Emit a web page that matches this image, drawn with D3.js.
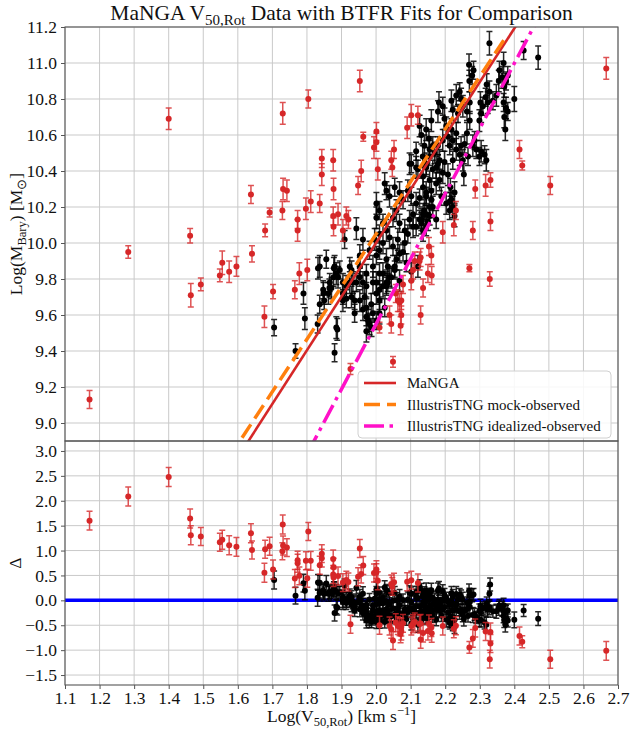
<!DOCTYPE html>
<html>
<head>
<meta charset="utf-8">
<script src="https://cdn.jsdelivr.net/npm/d3@7"></script>
<style>
body { margin: 0; background: #fff; }
text { font-family: "Liberation Serif", "Times New Roman", serif; fill: #111; }
</style>
</head>
<body>
<svg id="chart" width="630" height="729"></svg>
<script>
// tick labels
var xTicks = [1.1, 1.2, 1.3, 1.4, 1.5, 1.6, 1.7, 1.8, 1.9, 2.0, 2.1, 2.2, 2.3, 2.4, 2.5, 2.6, 2.7];
var yTicksTop = [9.0, 9.2, 9.4, 9.6, 9.8, 10.0, 10.2, 10.4, 10.6, 10.8, 11.0, 11.2];
var yTicksBottom = [-1.5, -1.0, -0.5, 0.0, 0.5, 1.0, 1.5, 2.0, 2.5, 3.0];

// BTFR fits: [slope, intercept, xmin, xmax]
var mangaFit = [2.98, 4.04, 1.1, 2.7];
var mockFit = [2.917, 4.215, 1.1, 2.37];
var idealFit = [3.62, 2.31, 1.1, 2.7];

// [logV, logM, err(logM), err(delta)]
var blackPoints = [
[2.328,11.11,.065,.15],[2.427,11.07,.05,.12],[2.469,11.03,.065,.14],[2.330,11.30,.06,.13],
[2.269,10.99,.06,.14],[2.282,10.96,.05,.12],[2.278,10.93,.05,.13],[2.270,10.90,.06,.15],
[2.369,11.00,.06,.14],[2.357,10.96,.05,.12],[2.365,10.92,.06,.15],[2.381,10.93,.05,.13],[2.355,10.90,.06,.14],[2.376,10.90,.05,.12],[2.371,10.87,.06,.15],
[2.320,10.88,.06,.14],[2.328,10.84,.06,.15],[2.317,10.81,.05,.12],[2.302,10.78,.06,.14],[2.309,10.76,.05,.13],[2.323,10.78,.06,.15],[2.338,10.79,.05,.12],[2.348,10.82,.06,.14],
[2.400,10.80,.07,.16],[2.369,10.78,.05,.13],[2.376,10.75,.06,.14],[2.374,10.63,.06,.15],
[2.299,10.68,.06,.14],[2.304,10.72,.05,.12],
[2.182,10.78,.06,.14],[2.193,10.76,.05,.13],[2.179,10.73,.06,.15],
[2.218,10.79,.06,.14],[2.232,10.82,.06,.15],[2.242,10.84,.05,.12],[2.246,10.80,.06,.14],[2.222,10.74,.06,.14],[2.237,10.72,.05,.13],[2.251,10.76,.06,.15],[2.263,10.73,.05,.12],[2.271,10.78,.06,.14],[2.271,10.68,.05,.13],
[2.198,10.69,.06,.14],[2.203,10.65,.05,.12],[2.218,10.63,.06,.15],[2.208,10.59,.05,.13],[2.193,10.57,.06,.14],[2.222,10.57,.05,.12],[2.232,10.61,.06,.15],[2.213,10.54,.05,.13],[2.232,10.52,.06,.14],[2.246,10.54,.05,.12],[2.242,10.49,.06,.15],[2.222,10.46,.05,.13],[2.251,10.46,.06,.14],[2.266,10.48,.05,.12],[2.263,10.61,.06,.15],
[2.126,10.65,.06,.14],[2.131,10.60,.05,.13],[2.145,10.63,.06,.15],[2.153,10.58,.05,.12],[2.160,10.68,.06,.14],[2.164,10.54,.05,.13],[2.140,10.54,.06,.15],[2.116,10.51,.05,.12],[2.135,10.48,.06,.14],[2.155,10.48,.05,.13],[2.169,10.50,.06,.15],[2.179,10.54,.05,.12],[2.184,10.46,.06,.14],[2.102,10.44,.05,.13],[2.116,10.42,.06,.15],[2.145,10.42,.05,.12],[2.174,10.42,.06,.14],
[2.256,10.55,.05,.13],[2.280,10.54,.06,.15],[2.290,10.52,.05,.12],[2.304,10.51,.06,.14],[2.314,10.49,.05,.13],[2.319,10.46,.06,.15],[2.299,10.48,.05,.12],[2.371,10.70,.06,.14],[2.381,10.73,.05,.13],[2.285,10.57,.05,.12],
[2.254,10.38,.06,.14],[2.218,10.24,.05,.13],[2.222,10.20,.06,.15],[2.213,10.18,.05,.12],[2.227,10.15,.06,.14],
[2.184,10.35,.06,.15],[2.189,10.26,.05,.12],[2.193,10.39,.06,.14],[2.179,10.44,.05,.13],[2.198,10.45,.06,.15],
[2.136,10.31,.06,.14],[2.145,10.26,.05,.12],[2.140,10.18,.06,.15],[2.155,10.15,.05,.13],[2.131,10.11,.06,.14],[2.145,10.09,.05,.12],[2.136,10.07,.06,.15],[2.150,10.12,.05,.13],[2.160,10.24,.06,.14],
[2.155,10.52,.05,.12],[2.145,10.44,.06,.15],[2.164,10.41,.05,.13],
[2.025,10.33,.06,.14],[2.030,10.29,.05,.12],[2.039,10.26,.06,.15],[2.054,10.31,.05,.13],[2.068,10.28,.06,.14],[2.078,10.24,.05,.12],[2.092,10.29,.06,.15],[2.102,10.26,.05,.13],[2.116,10.22,.06,.14],[2.126,10.25,.05,.12],[2.145,10.28,.06,.15],[2.160,10.29,.05,.13],[2.174,10.33,.06,.14],
[2.001,10.22,.06,.15],[2.010,10.18,.05,.12],[2.001,10.14,.06,.14],[2.020,10.11,.05,.13],[2.030,10.07,.06,.15],[2.010,10.05,.05,.12],[2.039,10.03,.06,.14],[2.049,10.14,.05,.13],[2.059,10.18,.06,.15],[2.068,10.11,.05,.12],[2.083,10.07,.06,.14],[2.097,10.13,.05,.13],[2.107,10.16,.06,.15],[2.116,10.09,.05,.12],[2.131,10.13,.06,.14],[2.145,10.16,.05,.13],[2.164,10.20,.06,.15],[2.174,10.13,.05,.12],
[1.996,10.02,.06,.14],[2.010,9.96,.05,.13],[2.020,10.00,.06,.15],[2.001,9.93,.05,.12],[2.030,9.91,.06,.14],[2.049,9.98,.05,.13],[2.063,10.02,.06,.15],[2.078,9.95,.05,.12],[2.054,9.87,.06,.14],[2.088,9.89,.05,.13],[2.010,9.83,.06,.15],[2.039,9.81,.05,.12],[2.068,9.79,.06,.14],[2.102,9.84,.05,.13],[2.121,9.87,.06,.15],[2.030,9.76,.05,.12],[2.001,9.78,.06,.14],
[1.943,10.08,.06,.15],[1.909,10.02,.05,.14],[1.885,9.83,.06,.15],[1.856,9.91,.05,.16],[1.837,9.87,.06,.15],[1.924,9.87,.05,.13],[1.962,10.02,.06,.14],[1.981,9.96,.05,.12],[1.953,9.93,.06,.15],[1.972,9.83,.05,.13],[1.991,9.87,.06,.14],[1.866,9.78,.05,.14],[1.914,9.76,.06,.15],[1.943,9.78,.05,.12],[1.972,9.76,.06,.14],
[1.837,9.66,.05,.16],[1.848,9.72,.06,.15],[1.850,9.68,.05,.14],[1.862,9.72,.06,.15],[1.865,9.75,.05,.13],[1.888,9.52,.06,.15],
[1.904,9.72,.06,.15],[1.914,9.69,.05,.13],[1.929,9.70,.06,.14],[1.938,9.61,.05,.12],[1.953,9.68,.06,.15],[1.972,9.64,.05,.13],[1.977,9.57,.06,.14],[1.987,9.53,.05,.12],[1.972,9.51,.06,.15],[2.001,9.57,.05,.13],[2.010,9.61,.06,.14],[2.025,9.64,.05,.12],[1.933,9.78,.06,.15],[1.953,9.81,.05,.13],[1.991,9.78,.06,.14],[2.010,9.74,.05,.12],[2.030,9.78,.06,.15],
[1.962,9.63,.06,.14],[1.972,9.59,.05,.12],[1.981,9.55,.06,.15],[1.991,9.61,.05,.13],[1.986,9.66,.06,.14],[1.967,9.70,.05,.12],[2.001,9.72,.06,.15],[2.010,9.68,.05,.13],[2.020,9.76,.06,.14],[2.034,9.78,.05,.12],[2.044,9.81,.06,.15],[2.054,9.85,.05,.13],[2.059,9.91,.06,.14],[2.034,9.87,.05,.12],[2.020,9.83,.06,.15],[2.068,9.94,.05,.13],[2.083,10.00,.06,.14],[2.092,10.05,.05,.12],[2.107,10.09,.06,.15],[2.126,10.13,.05,.13],[2.136,10.16,.06,.14],[2.155,10.20,.05,.12],[2.203,10.22,.06,.15],[2.213,10.23,.05,.13],
[1.880,9.87,.06,.14],[1.877,9.81,.05,.13],[1.871,9.75,.06,.15],[1.895,9.85,.05,.12],[1.885,9.53,.06,.14],[1.929,9.85,.05,.13],[1.924,9.78,.06,.15],[1.938,9.68,.05,.12],[1.962,9.78,.06,.14],[1.953,9.87,.05,.13],[1.904,9.68,.06,.15],
[1.705,9.53,.045,.18],[1.767,9.40,.04,.17],[1.790,9.72,.06,.18],[1.794,9.58,.06,.18],[1.832,9.86,.06,.16],[1.831,9.55,.05,.17],[1.878,9.86,.06,.15],[1.847,9.74,.05,.15],[1.880,9.39,.05,.16],[1.890,9.81,.06,.14],[1.904,9.78,.05,.14],
[2.097,10.44,.06,.14],[2.121,10.41,.05,.13],[2.136,10.37,.06,.15],[2.155,10.35,.05,.12],[2.208,10.38,.06,.14],[2.215,10.31,.05,.13],[2.227,10.28,.06,.15]
];

var redPoints = [
[1.171,9.13,.05,.19],[1.283,9.95,.035,.19],[1.400,10.69,.06,.19],[1.462,10.04,.04,.19],[1.464,9.71,.065,.19],[1.493,9.77,.035,.18],[1.548,9.82,.035,.18],[1.555,9.89,.065,.19],[1.575,9.84,.06,.19],[1.596,9.87,.055,.19],
[1.638,10.27,.05,.19],[1.641,9.94,.045,.18],[1.677,9.59,.06,.19],[1.679,10.07,.035,.18],[1.692,10.17,.025,.18],[1.702,9.73,.04,.19],[1.730,10.72,.06,.19],[1.729,10.18,.05,.17],[1.731,10.30,.06,.19],[1.742,10.29,.06,.18],
[1.765,9.74,.05,.18],[1.773,10.07,.06,.18],[1.773,10.13,.05,.18],[1.778,9.83,.06,.18],[1.797,10.19,.06,.18],[1.801,9.85,.06,.18],[1.804,10.80,.05,.18],[1.811,10.23,.06,.19],[1.837,10.22,.05,.18],[1.843,10.47,.05,.18],
[1.843,10.38,.06,.18],[1.876,10.46,.06,.18],[1.877,10.30,.06,.18],[1.876,10.15,.05,.18],[1.890,10.16,.06,.18],[1.914,10.15,.05,.18],[1.877,10.09,.05,.18],[1.904,10.07,.06,.18],[1.920,10.13,.05,.18],[1.948,10.32,.05,.18],
[1.957,10.40,.06,.18],[1.953,10.90,.06,.18],[1.963,10.59,.025,.18],[1.994,10.53,.06,.18],[2.001,10.56,.05,.18],[2.001,10.62,.05,.18],[2.005,10.41,.06,.18],[1.926,9.30,.03,.18],[2.010,9.53,.03,.18],
[2.153,9.98,.05,.18],[2.160,9.93,.05,.18],[2.150,9.83,.05,.18],[2.107,9.85,.05,.18],[2.102,9.79,.05,.18],[2.136,9.75,.05,.18],
[2.415,10.52,.05,.18],[2.423,10.43,.025,.12],[2.504,10.32,.05,.18],[2.666,10.97,.06,.19],
[2.287,10.30,.05,.18],[2.317,10.32,.06,.18],[2.331,10.35,.04,.18],[2.331,10.12,.05,.18],[2.280,10.07,.05,.18],[2.270,9.86,.02,.12],[2.329,9.80,.04,.18],[2.231,10.18,.05,.18],[2.225,10.10,.06,.18],[2.193,10.06,.06,.18],
[2.161,9.82,.05,.18],[2.129,9.60,.05,.18],[2.129,9.92,.05,.18],
[2.052,10.52,.05,.18],[2.044,10.46,.05,.18],[2.047,10.42,.05,.18],[2.090,10.64,.06,.18],[2.102,10.71,.06,.18],[2.121,10.71,.05,.18],
[2.126,9.90,.05,.18],[2.112,9.90,.05,.18],[2.078,9.77,.05,.18],[2.057,9.72,.05,.18],[2.063,9.68,.06,.18],[2.068,9.67,.05,.18],[2.073,9.68,.05,.18],[2.073,9.60,.05,.18],[2.071,9.54,.05,.18],[2.039,9.60,.05,.18],[2.044,9.55,.05,.18],[2.049,9.34,.03,.18]
];

// plot box (note: "top" is reserved on window, so use pT etc.)
var pL = 65, pR = 618, pT = 27, pS = 441, pB = 685;
var svg = d3.select("#chart");

var x = d3.scaleLinear().domain([1.1, 2.7]).range([pL, pR]);
var yTop = d3.scaleLinear().domain([8.9, 11.2]).range([pS, pT]);
var yBot = d3.scaleLinear().domain([-1.7, 3.2]).range([pB, pS]);

function residual(d) {
	return d[1] - (mangaFit[0] * d[0] + mangaFit[1]);
}

// clip regions
var defs = svg.append("defs");
defs.append("clipPath").attr("id", "clipTop").append("rect")
	.attr("x", pL).attr("y", pT).attr("width", pR - pL).attr("height", pS - pT);
defs.append("clipPath").attr("id", "clipBot").append("rect")
	.attr("x", pL).attr("y", pS).attr("width", pR - pL).attr("height", pB - pS);

// grids
function grid(yScale, yTicks, y0, y1) {
	var g = svg.append("g").attr("stroke", "#c9c9c9").attr("stroke-width", 1);
	g.selectAll(".vx").data(xTicks).enter().append("line")
		.attr("x1", function(d) { return x(d); }).attr("x2", function(d) { return x(d); })
		.attr("y1", y0).attr("y2", y1);
	g.selectAll(".hy").data(yTicks).enter().append("line")
		.attr("x1", pL).attr("x2", pR)
		.attr("y1", function(d) { return yScale(d); }).attr("y2", function(d) { return yScale(d); });
}
grid(yTop, yTicksTop, pT, pS);
grid(yBot, yTicksBottom, pS, pB);

// zero line of residual panel
svg.append("line")
	.attr("x1", pL).attr("x2", pR)
	.attr("y1", yBot(0)).attr("y2", yBot(0))
	.attr("stroke", "#0000ff").attr("stroke-width", 3.5);

function drawPoints(clip, data, yScale, yValue, errValue, color, errOpacity) {
	var g = svg.append("g").attr("clip-path", "url(#" + clip + ")");
	var pts = g.selectAll("g").data(data).enter().append("g");
	pts.append("path")
		.attr("d", function(d) {
			var px = x(d[0]);
			var ya = yScale(yValue(d) - errValue(d)), yb = yScale(yValue(d) + errValue(d));
			return "M" + px + "," + ya + "V" + yb +
				"M" + (px - 3) + "," + ya + "H" + (px + 3) +
				"M" + (px - 3) + "," + yb + "H" + (px + 3);
		})
		.attr("fill", "none").attr("stroke", color).attr("stroke-width", 1.5)
		.attr("stroke-opacity", errOpacity);
	pts.append("circle")
		.attr("cx", function(d) { return x(d[0]); })
		.attr("cy", function(d) { return yScale(yValue(d)); })
		.attr("r", 3).attr("fill", color);
}

var logM = function(d) { return d[1]; };
drawPoints("clipTop", blackPoints, yTop, logM, function(d) { return d[2]; }, "#000", 0.85);
drawPoints("clipTop", redPoints, yTop, logM, function(d) { return d[2]; }, "#d62728", 0.8);
drawPoints("clipBot", blackPoints, yBot, residual, function(d) { return d[3]; }, "#000", 0.85);
drawPoints("clipBot", redPoints, yBot, residual, function(d) { return d[3]; }, "#d62728", 0.8);

// fit lines
var fits = [
	{ fit: mangaFit, color: "#d62728", width: 2.6, dash: null, label: "MaNGA" },
	{ fit: mockFit, color: "#ff7f0e", width: 3.5, dash: "16,7", label: "IllustrisTNG mock-observed" },
	{ fit: idealFit, color: "#ff10c8", width: 3.5, dash: "20,5.5,3.5,5.5", label: "IllustrisTNG idealized-observed" }
];
var lineG = svg.append("g").attr("clip-path", "url(#clipTop)");
fits.forEach(function(f) {
	var xs = [f.fit[2], f.fit[3]];
	lineG.append("path")
		.attr("d", d3.line()
			.x(function(v) { return x(v); })
			.y(function(v) { return yTop(f.fit[0] * v + f.fit[1]); })(xs))
		.attr("fill", "none").attr("stroke", f.color).attr("stroke-width", f.width)
		.attr("stroke-dasharray", f.dash);
});

// frames
[[pT, pS], [pS, pB]].forEach(function(r) {
	svg.append("rect").attr("x", pL).attr("y", r[0])
		.attr("width", pR - pL).attr("height", r[1] - r[0])
		.attr("fill", "none").attr("stroke", "#555").attr("stroke-width", 1.1);
});

// axes
function styleAxis(g) {
	g.select(".domain").remove();
	g.selectAll(".tick line").attr("stroke", "#555");
	g.selectAll(".tick text").style("font-family", "Liberation Serif, serif").style("font-size", "17.5px").attr("fill", "#111");
}
var fmt = d3.format(".1f");
svg.append("g").attr("transform", "translate(0," + pB + ")")
	.call(d3.axisBottom(x).tickValues(xTicks).tickFormat(fmt).tickSize(4).tickPadding(3))
	.call(styleAxis);
svg.append("g").attr("transform", "translate(" + pL + ",0)")
	.call(d3.axisLeft(yTop).tickValues(yTicksTop).tickFormat(fmt).tickSize(4).tickPadding(4))
	.call(styleAxis);
svg.append("g").attr("transform", "translate(" + pL + ",0)")
	.call(d3.axisLeft(yBot).tickValues(yTicksBottom).tickFormat(fmt).tickSize(4).tickPadding(4))
	.call(styleAxis);

// legend
var lg = svg.append("g").attr("transform", "translate(358,371)");
lg.append("rect").attr("width", 253).attr("height", 67).attr("rx", 4)
	.attr("fill", "#fff").attr("fill-opacity", 0.85).attr("stroke", "#d0d0d0");
fits.forEach(function(f, i) {
	var ly = 12 + i * 21.5;
	lg.append("line").attr("x1", 6).attr("x2", 38).attr("y1", ly).attr("y2", ly)
		.attr("stroke", f.color).attr("stroke-width", f.width)
		.attr("stroke-dasharray", f.dash);
	lg.append("text").attr("x", 49).attr("y", ly + 5)
		.style("font-size", "15px").text(f.label);
});

// title
var title = svg.append("text").attr("x", (pL + pR) / 2).attr("y", 20)
	.attr("text-anchor", "middle").style("font-size", "21.5px");
title.append("tspan").text("MaNGA V");
title.append("tspan").attr("dy", 5).style("font-size", "15px").text("50,Rot");
title.append("tspan").attr("dy", -5).text(" Data with BTFR Fits for Comparison");

// x label
var xl = svg.append("text").attr("x", (pL + pR) / 2).attr("y", 722)
	.attr("text-anchor", "middle").style("font-size", "17.5px");
xl.append("tspan").text("Log(V");
xl.append("tspan").attr("dy", 4).style("font-size", "12.5px").text("50,Rot");
xl.append("tspan").attr("dy", -4).text(") [km s");
xl.append("tspan").attr("dy", -7).style("font-size", "12.5px").text("\u22121");
xl.append("tspan").attr("dy", 7).text("]");

// y labels
var yl = svg.append("text").attr("transform", "translate(22," + ((pT + pS) / 2) + ") rotate(-90)")
	.attr("text-anchor", "middle").style("font-size", "17.5px");
yl.append("tspan").text("Log(M");
yl.append("tspan").attr("dy", 4).style("font-size", "12.5px").text("Bary");
yl.append("tspan").attr("dy", -4).text(") [M");
yl.append("tspan").attr("dy", 4).style("font-size", "12.5px").text("\u2299");
yl.append("tspan").attr("dy", -4).text("]");

svg.append("text").attr("transform", "translate(21," + ((pS + pB) / 2) + ") rotate(-90)")
	.attr("text-anchor", "middle").style("font-size", "17.5px").text("\u0394");
</script>
</body>
</html>
